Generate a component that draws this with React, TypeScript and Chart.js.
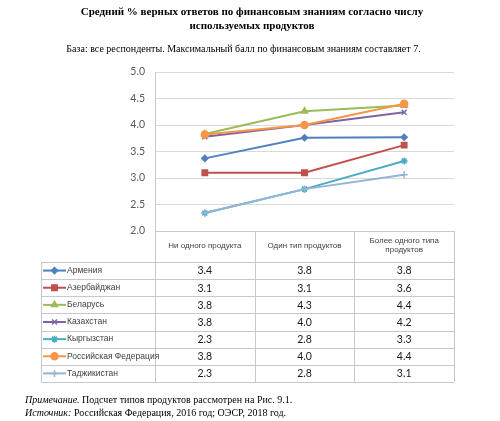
import React, { useEffect, useRef } from "react";
import { Chart, registerables } from "chart.js";
import { drawPoint } from "chart.js/helpers";

Chart.register(...registerables);

const categories = ["Ни одного продукта", "Один тип продуктов", "Более одного типа продуктов"];
const categoryHeaderLines = [["Ни одного продукта"], ["Один тип продуктов"], ["Более одного типа", "продуктов"]];
const countries = ["Армения", "Азербайджан", "Беларусь", "Казахстан", "Кыргызстан", "Российская Федерация", "Таджикистан"];

const armenia = [3.37, 3.76, 3.77];
const azerbaijan = [3.1, 3.1, 3.62];
const belarus = [3.83, 4.26, 4.37];
const kazakhstan = [3.78, 4.0, 4.24];
const kyrgyzstan = [2.34, 2.79, 3.32];
const russia = [3.82, 4.0, 4.4];
const tajikistan = [2.34, 2.79, 3.06];
const seriesValues = [armenia, azerbaijan, belarus, kazakhstan, kyrgyzstan, russia, tajikistan];

const yMin = 2.0;
const yMax = 5.0;
const yStep = 0.5;

const colors = ["#4F81BD", "#C0504D", "#9BBB59", "#8064A2", "#4BACC6", "#F79646", "#95B3D7"];
const pointStyles = ["rectRot", "rect", "triangle", "crossRot", "star", "circle", "cross"];
const pointRadii = [3, 3.8, 3.5, 3.5, 3.5, 3.5, 3.5];

const TABLE_HEADER_H = 31;
const TABLE_ROW_H = 17.14;
const TABLE_LEFT = 41;

const crisp = (v: number) => Math.round(v) + 0.5;

const dataTablePlugin = {
  id: "dataTable",
  afterDraw(chart: any) {
    const { ctx, chartArea, scales } = chart;
    const xs = scales.x;
    const n = categories.length;
    const edges: number[] = [chartArea.left];
    for (let i = 0; i < n - 1; i++) {
      edges.push((xs.getPixelForValue(i) + xs.getPixelForValue(i + 1)) / 2);
    }
    edges.push(chartArea.right);
    const top = chartArea.bottom;
    const headerBottom = top + TABLE_HEADER_H;
    const rows = chart.data.datasets.length;
    const bottom = headerBottom + rows * TABLE_ROW_H;

    ctx.save();
    ctx.strokeStyle = "#c8c8c8";
    ctx.lineWidth = 1;
    ctx.beginPath();
    ctx.moveTo(edges[0], crisp(top));
    ctx.lineTo(edges[n], crisp(top));
    for (let i = 0; i <= n; i++) {
      ctx.moveTo(crisp(edges[i]), top);
      ctx.lineTo(crisp(edges[i]), bottom);
    }
    ctx.moveTo(crisp(TABLE_LEFT), headerBottom);
    ctx.lineTo(crisp(TABLE_LEFT), bottom);
    for (let r = 0; r <= rows; r++) {
      const y = crisp(headerBottom + r * TABLE_ROW_H);
      ctx.moveTo(TABLE_LEFT, y);
      ctx.lineTo(edges[n], y);
    }
    ctx.stroke();

    ctx.fillStyle = "#404040";
    ctx.font = "8px 'Liberation Sans', Arial, sans-serif";
    ctx.textAlign = "center";
    ctx.textBaseline = "middle";
    for (let i = 0; i < n; i++) {
      const lines = categoryHeaderLines[i];
      const cx = xs.getPixelForValue(i);
      const lh = 9;
      const startY = top + TABLE_HEADER_H / 2 - ((lines.length - 1) * lh) / 2 - 1;
      lines.forEach((t, k) => ctx.fillText(t, cx, startY + k * lh));
    }

    chart.data.datasets.forEach((ds: any, r: number) => {
      const cy = headerBottom + r * TABLE_ROW_H + TABLE_ROW_H / 2;
      ctx.strokeStyle = ds.borderColor;
      ctx.lineWidth = 2;
      ctx.beginPath();
      ctx.moveTo(TABLE_LEFT + 2, cy);
      ctx.lineTo(TABLE_LEFT + 25, cy);
      ctx.stroke();
      ctx.fillStyle = ds.pointBackgroundColor;
      ctx.strokeStyle = ds.pointBorderColor;
      ctx.lineWidth = ds.pointBorderWidth;
      drawPoint(ctx, { pointStyle: ds.pointStyle, radius: ds.pointRadius, rotation: 0, borderWidth: ds.pointBorderWidth }, TABLE_LEFT + 13.5, cy);
      ctx.fillStyle = "#404040";
      ctx.font = "8.5px 'Liberation Sans', Arial, sans-serif";
      ctx.textAlign = "left";
      ctx.fillText(ds.label, TABLE_LEFT + 26, cy);
      ctx.fillStyle = "#1a1a1a";
      ctx.font = "10.5px Lato, sans-serif";
      ctx.textAlign = "center";
      ds.data.forEach((v: number, i: number) => {
        ctx.fillText(v.toFixed(1), xs.getPixelForValue(i), cy + 0.5);
      });
    });
    ctx.restore();
  },
};

export default function App() {
  const ref = useRef<HTMLCanvasElement | null>(null);

  useEffect(() => {
    if (!ref.current) return;
    const nSeries = seriesValues.length;
    const chart = new Chart(ref.current, {
      type: "line",
      data: {
        labels: categories,
        datasets: seriesValues.map((vals, i) => ({
          label: countries[i],
          data: vals,
          borderColor: colors[i],
          backgroundColor: colors[i],
          pointBackgroundColor: colors[i],
          pointBorderColor: colors[i],
          pointBorderWidth: 1.5,
          pointStyle: pointStyles[i] as any,
          pointRadius: pointRadii[i],
          borderWidth: 2,
          tension: 0,
          order: nSeries - i,
        })),
      },
      options: {
        animation: false,
        responsive: true,
        maintainAspectRatio: false,
        layout: { padding: { left: 115, right: 46, top: 72, bottom: 190 } },
        plugins: {
          legend: { display: false },
          tooltip: { enabled: false },
          title: { display: false },
        },
        scales: {
          x: {
            type: "category",
            offset: true,
            display: false,
          },
          y: {
            min: yMin,
            max: yMax,
            afterFit: (scale: any) => {
              scale.width = 40;
            },
            ticks: {
              stepSize: yStep,
              padding: 10,
              color: "#595959",
              font: { family: "Lato, sans-serif", size: 10.5 },
              callback: (v: any) => Number(v).toFixed(1),
            },
            grid: { color: "#d9d9d9", drawTicks: false, lineWidth: 1 },
            border: { display: true, color: "#c8c8c8" },
          },
        },
      },
      plugins: [dataTablePlugin],
    });
    return () => chart.destroy();
  }, []);

  const serif = "'Liberation Serif', 'Times New Roman', serif";
  return (
    <div style={{ position: "absolute", left: 0, top: 0, width: 500, height: 421, background: "#fff", overflow: "hidden" }}>
      <canvas ref={ref} style={{ position: "absolute", left: 0, top: 0, width: 500, height: 421 }} />
      <div
        style={{
          position: "absolute",
          left: 0,
          top: 4,
          width: 504,
          textAlign: "center",
          fontFamily: serif,
          fontWeight: "bold",
          fontSize: 11,
          lineHeight: "14px",
          color: "#000",
        }}
      >
        Средний % верных ответов по финансовым знаниям согласно числу
        <br />
        используемых продуктов
      </div>
      <div
        style={{
          position: "absolute",
          left: 0,
          top: 42,
          width: 487,
          textAlign: "center",
          fontFamily: serif,
          fontSize: 10,
          lineHeight: "14px",
          color: "#000",
        }}
      >
        База: все респонденты. Максимальный балл по финансовым знаниям составляет 7.
      </div>
      <div
        style={{
          position: "absolute",
          left: 25,
          top: 393,
          fontFamily: serif,
          fontSize: 10,
          lineHeight: "13px",
          color: "#000",
          whiteSpace: "nowrap",
        }}
      >
        <i>Примечание.</i> Подсчет типов продуктов рассмотрен на Рис. 9.1.
        <br />
        <i>Источник:</i> Российская Федерация, 2016 год; ОЭСР, 2018 год.
      </div>
    </div>
  );
}
